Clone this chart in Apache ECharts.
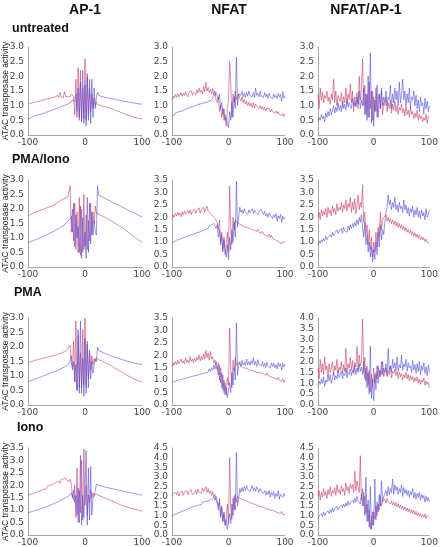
<!DOCTYPE html>
<html><head><meta charset="utf-8">
<script src="https://cdn.jsdelivr.net/npm/echarts@6/dist/echarts.min.js"></script>
<style>html,body{margin:0;padding:0;background:#fff}#c{width:441px;height:547px}</style>
</head><body><div id="c"></div>
<script>
// ---------- labels ----------
const columns = ['AP-1', 'NFAT', 'NFAT/AP-1'];
const treatments = ['untreated', 'PMA/Iono', 'PMA', 'Iono'];
const yTitle = 'ATAC transposase activity';
const xTickValues = [-100, 0, 100];
const yMaxes = [[3, 3, 3], [3, 3.5, 3.5], [3, 3.5, 4], [3.5, 4.5, 4.5]];
// positions relative to motif centre (bp), every 2 bp
const positions = [];
for (let p = -100; p <= 100; p += 2) positions.push(p);

// ---------- row 1: untreated ----------
const untreated_AP1_red = [1.05,1.02,1.08,1.04,1.10,1.07,1.12,1.09,1.14,1.10, 1.15,1.12,1.18,1.14,1.20,1.16,1.22,1.18,1.24,1.20, 1.26,1.22,1.28,1.24,1.30,1.27,1.35,1.28,1.45,1.30, 1.33,1.28,1.48,1.30,1.35,1.32,1.38,1.30,1.40,1.35, 1.30,0.70,1.90,0.60,2.30,0.50,2.20,0.45,1.60,0.55, 2.60,0.50,2.10,0.70,1.60,0.80,1.40,0.90,1.25,1.00, 1.12,1.05,1.10,1.02,1.06,0.98,1.02,0.97,0.99,0.95, 0.96,0.92,0.94,0.90,0.91,0.87,0.88,0.84,0.85,0.81, 0.82,0.78,0.79,0.75,0.76,0.72,0.73,0.69,0.70,0.67, 0.67,0.64,0.65,0.61,0.62,0.59,0.60,0.57,0.58,0.55,0.56];
const untreated_AP1_blue = [0.55,0.58,0.57,0.60,0.62,0.61,0.65,0.64,0.68,0.66, 0.70,0.72,0.71,0.75,0.74,0.78,0.77,0.81,0.80,0.84, 0.83,0.87,0.86,0.90,0.89,0.93,0.92,0.96,0.95,0.99, 0.98,1.02,1.01,1.06,1.04,1.10,1.08,1.14,1.12,1.20, 1.25,1.15,1.40,0.80,1.60,0.60,1.80,0.50,2.20,0.40, 1.70,0.30,2.00,0.50,1.90,0.40,1.90,0.60,1.60,0.90, 1.30,1.45,1.35,1.40,1.32,1.38,1.30,1.35,1.28,1.33, 1.27,1.30,1.25,1.28,1.23,1.26,1.22,1.25,1.20,1.23, 1.19,1.22,1.17,1.20,1.15,1.18,1.14,1.16,1.12,1.15, 1.11,1.14,1.10,1.12,1.08,1.11,1.07,1.10,1.06,1.09,1.05];
const untreated_NFAT_red = [1.20,1.32,1.25,1.38,1.28,1.40,1.30,1.36,1.45,1.32, 1.42,1.35,1.48,1.38,1.30,1.45,1.40,1.52,1.35,1.45, 1.50,1.38,1.55,1.42,1.60,1.45,1.52,1.40,1.65,1.48, 1.80,1.50,1.62,1.45,1.55,1.40,1.58,1.35,1.50,1.20, 1.10,1.30,0.80,1.00,0.60,0.90,0.50,0.70,0.30,0.90, 1.20,2.50,1.80,0.60,1.40,1.10,1.50,1.20,1.30,1.40, 1.25,1.15,1.30,1.10,1.20,1.05,1.15,1.00,1.12,0.98, 1.08,0.95,1.10,0.92,1.05,0.98,1.02,0.90,1.00,0.88, 0.98,0.85,0.95,0.82,0.92,0.86,0.90,0.78,0.88,0.80, 0.85,0.75,0.82,0.72,0.80,0.70,0.76,0.66,0.74,0.62,0.72];
const untreated_NFAT_blue = [0.65,0.70,0.68,0.75,0.72,0.78,0.74,0.80,0.76,0.82, 0.80,0.86,0.82,0.90,0.85,0.92,0.88,0.95,0.90,0.98, 0.94,1.00,0.96,1.04,0.98,1.06,1.00,1.08,1.02,1.10, 1.06,1.12,1.08,1.15,1.10,1.20,1.15,1.30,1.25,1.45, 1.50,1.20,1.40,0.90,1.10,0.70,0.90,0.50,0.60,0.40, 0.25,0.80,0.50,1.10,0.60,1.30,0.90,2.65,1.00,1.40, 1.45,1.35,1.50,1.30,1.42,1.28,1.45,1.32,1.50,1.35, 1.40,1.30,1.45,1.28,1.60,1.35,1.42,1.30,1.50,1.32, 1.38,1.28,1.45,1.30,1.40,1.25,1.42,1.30,1.36,1.22, 1.40,1.28,1.35,1.25,1.42,1.30,1.38,1.15,1.48,1.25,1.35];
const untreated_BOTH_red = [1.40,0.90,1.60,1.20,1.45,1.10,1.35,1.25,1.50,1.15, 1.30,1.05,1.40,1.20,1.90,1.10,1.50,1.00,1.35,1.25, 1.15,1.45,0.95,1.30,1.10,1.60,1.05,1.40,1.20,1.75, 1.10,1.50,0.80,1.30,1.00,1.45,0.90,2.00,1.20,1.55, 2.60,1.00,1.70,0.70,1.40,0.60,1.80,0.90,1.50,0.50, 1.30,0.80,1.60,0.60,1.20,1.40,0.90,1.50,0.70,1.10, 1.00,1.30,0.80,1.10,0.90,1.20,0.75,1.05,0.85,1.15, 0.80,1.00,0.70,0.95,0.85,1.05,0.75,0.90,0.65,1.00, 0.70,0.85,0.60,0.95,0.70,0.80,0.55,0.75,0.60,0.85, 0.50,0.70,0.55,0.65,0.45,0.60,0.50,0.70,0.40,0.65,0.60];
const untreated_BOTH_blue = [0.45,0.60,0.50,0.70,0.55,0.65,0.45,0.75,0.60,0.80, 0.65,0.90,0.70,0.85,1.00,0.75,0.95,0.80,1.10,0.85, 1.00,0.80,1.15,0.90,1.05,0.85,1.20,0.95,1.10,1.00, 0.90,1.25,1.00,1.10,0.95,1.30,1.05,1.50,0.90,1.20, 1.00,1.60,0.70,1.40,0.50,2.00,0.60,2.80,0.40,1.50, 0.30,1.20,0.80,1.70,0.60,1.40,0.90,1.60,1.00,1.30, 1.10,1.50,1.00,1.30,1.20,1.70,0.90,1.40,1.10,1.60, 1.20,1.50,1.00,1.80,1.10,1.40,1.90,1.20,1.50,1.00, 1.40,1.10,1.60,0.90,1.30,1.20,1.50,1.00,1.35,0.90, 1.20,0.80,1.30,1.00,1.10,0.70,1.25,0.90,1.15,0.80,1.00];

// ---------- row 2: PMA/Iono ----------
const pmaIono_AP1_red = [1.78,1.82,1.80,1.86,1.84,1.90,1.88,1.93,1.91,1.96, 1.94,1.99,1.97,2.02,2.00,2.05,2.03,2.08,2.06,2.11, 2.09,2.14,2.12,2.18,2.15,2.22,2.18,2.26,2.22,2.30, 2.26,2.34,2.30,2.38,2.34,2.42,2.40,2.80,1.20,2.00, 0.90,2.20,0.60,1.90,0.50,2.40,0.40,2.00,0.50,2.50, 0.70,1.80,0.60,1.60,0.90,2.20,1.10,1.90,1.50,2.10, 1.85,1.80,1.82,1.76,1.78,1.72,1.74,1.68,1.70,1.64, 1.66,1.60,1.62,1.56,1.57,1.51,1.52,1.46,1.47,1.41, 1.42,1.36,1.37,1.31,1.32,1.26,1.26,1.20,1.20,1.14, 1.14,1.08,1.08,1.02,1.02,0.96,0.96,0.91,0.91,0.86,0.85];
const pmaIono_AP1_blue = [0.85,0.88,0.87,0.91,0.90,0.94,0.93,0.97,0.96,1.00, 0.99,1.03,1.02,1.07,1.06,1.11,1.10,1.15,1.14,1.19, 1.18,1.23,1.22,1.27,1.26,1.31,1.30,1.36,1.35,1.41, 1.40,1.46,1.45,1.52,1.50,1.58,1.56,1.65,1.75,1.20, 2.20,0.70,1.80,1.00,1.40,0.50,2.10,0.30,1.70,0.60, 1.20,0.30,2.40,0.50,2.20,0.80,1.90,1.10,1.60,1.20, 1.10,2.80,2.48,2.50,2.44,2.46,2.40,2.42,2.36,2.38, 2.32,2.34,2.28,2.30,2.24,2.26,2.20,2.22,2.16,2.18, 2.12,2.14,2.08,2.10,2.04,2.06,2.00,2.02,1.96,1.98, 1.92,1.94,1.88,1.90,1.84,1.86,1.80,1.82,1.76,1.78,1.74];
const pmaIono_NFAT_red = [1.95,2.10,2.00,2.15,2.05,2.20,2.08,2.18,2.02,2.22, 2.10,2.25,2.12,2.05,2.28,2.15,2.30,2.10,2.25,2.18, 2.32,2.15,2.28,2.20,2.38,2.18,2.30,2.25,2.40,2.20, 2.35,2.45,2.25,2.30,2.15,2.20,2.05,2.10,1.95,2.00, 1.80,1.50,1.90,1.00,1.40,0.70,1.20,0.50,0.90,1.40, 0.60,3.25,1.60,0.90,2.00,1.50,1.90,1.80,1.85,1.75, 1.80,1.70,1.78,1.65,1.72,1.60,1.68,1.58,1.66,1.55, 1.62,1.50,1.58,1.48,1.55,1.42,1.52,1.40,1.48,1.35, 1.44,1.32,1.40,1.28,1.36,1.22,1.32,1.18,1.28,1.15, 1.22,1.10,1.18,1.05,1.12,1.00,1.08,0.92,1.02,0.95,1.00];
const pmaIono_NFAT_blue = [1.00,1.05,1.02,1.10,1.08,1.15,1.10,1.18,1.14,1.22, 1.18,1.25,1.20,1.28,1.24,1.32,1.28,1.35,1.30,1.38, 1.34,1.42,1.38,1.45,1.40,1.48,1.44,1.52,1.48,1.56, 1.52,1.60,1.55,1.65,1.58,1.70,1.62,1.75,1.68,1.55, 1.70,1.20,1.50,0.90,1.30,0.60,1.10,0.70,0.40,0.90, 0.30,1.20,0.70,1.50,1.00,1.80,1.20,3.45,1.60,2.00, 2.40,2.20,2.30,2.15,2.35,2.20,2.28,2.12,2.30,2.18, 2.25,2.35,2.15,2.30,2.20,2.28,2.10,2.25,2.18,2.32, 2.20,2.10,2.25,2.05,2.15,2.00,2.18,2.08,2.12,1.95, 2.10,2.00,2.15,1.85,2.05,1.95,2.12,1.80,2.05,1.92,2.00];
const pmaIono_BOTH_red = [2.00,2.20,1.90,2.30,2.05,2.25,2.10,2.35,2.00,2.40, 2.15,2.30,2.05,2.45,2.20,2.35,2.10,2.55,2.25,2.40, 2.30,2.60,2.20,2.50,2.35,2.70,2.25,2.55,2.40,2.80, 2.20,2.60,2.30,2.75,2.15,2.50,2.90,2.30,2.60,2.40, 3.30,1.80,2.20,1.30,1.70,0.90,1.50,0.70,1.20,0.40, 1.00,0.60,1.40,0.80,1.60,1.20,2.20,1.50,1.90,2.00, 1.95,2.10,1.85,2.00,1.80,1.95,1.75,1.90,1.70,1.85, 1.65,1.80,1.60,1.75,1.55,1.70,1.50,1.65,1.45,1.58, 1.40,1.52,1.35,1.48,1.30,1.42,1.25,1.38,1.20,1.32, 1.15,1.28,1.10,1.22,1.08,1.18,1.02,1.12,1.00,1.05,0.95];
const pmaIono_BOTH_blue = [0.90,1.05,0.95,1.10,1.00,1.15,1.05,1.25,1.10,1.20, 1.15,1.30,1.20,1.40,1.25,1.35,1.30,1.50,1.35,1.45, 1.40,1.55,1.35,1.60,1.45,1.50,1.40,1.65,1.50,1.70, 1.55,1.75,1.60,1.80,1.65,1.90,1.70,2.00,1.80,2.10, 1.60,1.20,1.80,0.90,1.30,0.60,1.00,0.40,0.80,0.20, 0.70,0.30,1.00,0.50,1.40,0.80,1.70,1.10,1.50,1.30, 1.80,2.20,2.40,2.90,2.50,2.70,2.30,2.60,2.40,2.80, 2.30,2.50,2.20,2.60,2.35,2.45,2.20,2.70,2.30,2.50, 2.15,2.40,2.05,2.35,2.20,2.45,2.00,2.30,2.10,2.40, 2.00,2.25,1.95,2.30,2.05,2.20,1.90,2.35,2.00,2.10,2.30];

// ---------- row 3: PMA ----------
const pma_AP1_red = [1.45,1.50,1.48,1.53,1.51,1.56,1.54,1.58,1.56,1.60, 1.58,1.62,1.60,1.64,1.62,1.66,1.64,1.68,1.66,1.70, 1.68,1.72,1.70,1.74,1.72,1.77,1.75,1.80,1.78,1.83, 1.80,1.86,1.84,1.90,1.88,1.95,1.90,2.05,1.45,1.30, 2.20,0.80,2.90,0.50,2.40,0.60,1.80,0.40,2.60,0.70, 3.00,0.60,2.20,0.90,1.90,1.20,1.70,1.40,1.60,1.50, 1.62,1.58,1.56,1.52,1.54,1.48,1.50,1.44,1.45,1.40, 1.41,1.36,1.37,1.32,1.33,1.28,1.28,1.23,1.24,1.19, 1.19,1.14,1.15,1.10,1.10,1.05,1.05,1.00,1.00,0.96, 0.96,0.92,0.92,0.88,0.88,0.85,0.85,0.82,0.82,0.80,0.80];
const pma_AP1_blue = [0.80,0.84,0.83,0.87,0.86,0.90,0.89,0.93,0.92,0.96, 0.95,0.99,0.98,1.02,1.01,1.05,1.04,1.08,1.07,1.11, 1.10,1.14,1.13,1.17,1.16,1.20,1.19,1.24,1.23,1.28, 1.27,1.32,1.31,1.37,1.36,1.42,1.45,1.55,1.70,1.20, 1.50,0.80,1.40,0.50,2.60,0.40,2.90,0.60,1.60,0.30, 2.30,0.40,2.10,0.60,1.80,0.90,1.50,1.10,1.40,1.60, 1.50,2.00,1.88,1.90,1.84,1.86,1.80,1.82,1.77,1.79, 1.74,1.76,1.71,1.73,1.68,1.70,1.65,1.67,1.62,1.64, 1.60,1.62,1.57,1.60,1.55,1.58,1.52,1.56,1.50,1.54, 1.48,1.52,1.46,1.50,1.44,1.48,1.42,1.47,1.40,1.46,1.42];
const pma_NFAT_red = [1.55,1.70,1.60,1.75,1.62,1.80,1.65,1.72,1.85,1.68, 1.78,1.65,1.90,1.72,1.82,1.68,1.95,1.75,1.85,1.70, 1.88,1.75,1.92,1.80,2.00,1.78,1.95,1.82,2.05,1.85, 2.20,1.90,2.10,1.80,2.15,1.85,1.95,1.70,1.80,1.60, 1.40,1.70,1.00,1.50,0.70,1.20,0.50,0.90,0.40,1.10, 0.80,3.10,1.50,0.70,1.80,1.40,1.90,1.60,1.70,1.75, 1.65,1.55,1.62,1.50,1.58,1.48,1.55,1.45,1.52,1.40, 1.48,1.38,1.45,1.35,1.42,1.32,1.40,1.30,1.38,1.28, 1.35,1.25,1.32,1.20,1.30,1.18,1.26,1.15,1.22,1.10, 1.18,1.08,1.15,1.02,1.12,1.00,1.08,0.95,1.05,0.90,1.00];
const pma_NFAT_blue = [0.90,0.98,0.95,1.02,0.98,1.05,1.00,1.08,1.03,1.10, 1.05,1.12,1.08,1.15,1.10,1.18,1.12,1.20,1.15,1.22, 1.18,1.25,1.20,1.28,1.22,1.30,1.25,1.32,1.28,1.35, 1.30,1.38,1.32,1.45,1.35,1.50,1.40,1.60,1.45,1.75, 1.50,1.20,1.60,0.90,1.30,0.60,1.00,0.40,0.70,0.30, 0.60,0.90,0.50,1.30,0.80,1.50,1.00,3.30,1.20,1.60, 1.75,1.55,1.80,1.60,1.72,1.58,1.85,1.62,1.75,1.60, 1.78,1.65,1.90,1.60,1.75,1.55,1.82,1.62,1.70,1.58, 1.75,1.55,1.68,1.50,1.72,1.58,1.65,1.48,1.70,1.55, 1.68,1.50,1.62,1.45,1.70,1.55,1.65,1.40,1.68,1.52,1.65];
const pma_BOTH_red = [1.70,1.20,2.10,1.50,1.90,1.40,2.20,1.60,1.80,1.30, 1.90,1.50,1.70,2.00,1.40,1.80,1.60,2.10,1.50,1.75, 1.60,2.00,1.45,1.85,1.55,2.60,1.50,1.90,1.70,2.20, 1.60,2.05,1.50,1.95,1.75,2.70,1.60,2.30,1.80,2.00, 3.95,1.50,2.20,1.10,1.80,0.90,1.60,0.60,1.40,0.80, 1.70,1.00,1.50,1.20,1.80,1.30,1.60,1.40,2.00,1.30, 1.50,1.70,1.30,1.60,1.40,1.80,1.25,1.55,1.45,1.65, 1.35,1.55,1.20,1.50,1.30,1.45,1.15,1.40,1.25,1.50, 1.20,1.40,1.10,1.35,1.15,1.30,1.05,1.25,1.10,1.30, 1.00,1.20,0.95,1.15,1.05,1.25,0.90,1.10,0.95,1.05,0.80];
const pma_BOTH_blue = [0.90,1.10,0.95,1.20,1.00,1.30,0.85,1.15,1.05,1.35, 1.10,1.40,1.00,1.25,1.50,1.15,1.35,1.20,1.60,1.25, 1.30,1.55,1.20,1.45,1.35,1.70,1.25,1.50,1.40,1.65, 1.35,1.60,1.45,1.80,1.40,1.70,1.50,1.90,1.55,1.75, 1.40,2.00,1.20,1.70,0.80,1.50,0.50,2.70,0.30,1.20, 0.20,1.40,0.70,1.80,1.00,1.60,1.30,2.00,1.40,1.70, 1.50,1.90,1.40,2.60,1.60,1.80,1.50,2.10,1.70,1.95, 1.60,2.20,1.55,1.85,1.70,2.30,1.60,1.90,1.75,2.10, 1.55,1.95,1.70,1.80,1.50,2.05,1.60,1.85,1.45,1.90, 1.55,2.00,1.40,1.80,1.60,1.95,1.45,1.75,1.35,1.85,1.50];

// ---------- row 4: Iono ----------
const iono_AP1_red = [1.60,1.65,1.63,1.68,1.66,1.72,1.70,1.76,1.73,1.80, 1.77,1.84,1.80,1.88,1.84,1.92,1.87,1.96,1.90,1.99, 1.94,2.03,1.97,2.07,2.00,2.12,2.05,2.18,2.08,2.22, 2.15,2.26,2.18,2.30,2.20,2.24,2.15,2.25,2.00,1.60, 1.40,2.00,0.70,2.70,0.50,1.80,0.90,3.00,0.60,3.45, 1.20,2.00,0.80,1.60,1.30,1.80,1.50,1.70,1.55,1.65, 1.60,1.62,1.55,1.58,1.50,1.54,1.46,1.50,1.42,1.46, 1.38,1.42,1.34,1.38,1.30,1.34,1.26,1.30,1.22,1.26, 1.18,1.22,1.15,1.18,1.12,1.15,1.09,1.12,1.06,1.09, 1.04,1.06,1.02,1.04,1.00,1.02,0.98,1.00,0.96,0.97,0.94];
const iono_AP1_blue = [0.90,0.93,0.92,0.96,0.95,0.99,0.98,1.02,1.01,1.05, 1.04,1.08,1.07,1.11,1.10,1.14,1.13,1.18,1.17,1.22, 1.21,1.26,1.25,1.30,1.29,1.34,1.33,1.38,1.37,1.43, 1.42,1.48,1.47,1.53,1.52,1.58,1.57,1.65,1.70,1.50, 1.80,1.30,1.60,0.80,1.90,0.50,3.20,0.40,1.60,0.70, 1.80,3.40,0.40,2.70,0.60,2.75,0.80,1.50,1.60,1.80, 2.05,2.10,2.00,2.08,1.98,2.05,1.95,2.02,1.92,2.00, 1.90,1.98,1.88,1.95,1.86,1.92,1.84,1.90,1.82,1.88, 1.80,1.86,1.78,1.84,1.76,1.82,1.74,1.80,1.72,1.78, 1.70,1.76,1.68,1.74,1.66,1.72,1.64,1.70,1.62,1.68,1.60];
const iono_NFAT_red = [2.00,2.15,2.05,2.20,2.08,2.25,2.02,2.18,2.10,2.28, 2.05,2.22,2.12,2.30,2.08,2.25,2.15,2.35,2.10,2.20, 2.18,2.32,2.12,2.38,2.20,2.30,2.15,2.42,2.25,2.35, 2.50,2.20,2.40,2.15,2.30,2.05,2.25,1.95,2.10,1.80, 1.90,1.50,1.70,1.00,1.40,0.70,1.10,0.50,0.80,1.60, 0.60,4.00,1.40,0.80,1.90,1.30,2.10,1.70,2.00,1.95, 1.90,1.95,1.85,1.90,1.80,1.85,1.75,1.82,1.70,1.78, 1.65,1.75,1.60,1.70,1.58,1.65,1.52,1.60,1.48,1.55, 1.45,1.52,1.40,1.48,1.35,1.45,1.32,1.40,1.28,1.35, 1.25,1.32,1.20,1.30,1.15,1.25,1.10,1.22,1.05,1.15,1.05];
const iono_NFAT_blue = [1.00,1.08,1.05,1.12,1.10,1.18,1.15,1.22,1.20,1.28, 1.25,1.35,1.30,1.40,1.35,1.45,1.40,1.50,1.45,1.55, 1.50,1.58,1.52,1.62,1.55,1.65,1.58,1.70,1.62,1.72, 1.65,1.75,1.70,1.80,1.72,1.85,1.78,1.95,1.80,2.00, 1.70,1.30,1.90,0.90,1.50,0.70,1.20,0.50,0.80,0.30, 0.70,1.10,0.60,1.60,1.00,2.00,1.30,4.25,1.50,1.90, 2.40,2.20,2.45,2.25,2.50,2.30,2.55,2.35,2.45,2.25, 2.40,2.55,2.30,2.45,2.25,2.50,2.35,2.20,2.40,2.25, 2.35,2.15,2.30,2.05,2.25,2.10,2.30,1.95,2.20,2.05, 2.25,1.90,2.15,2.00,2.30,1.85,2.10,2.05,1.95,2.15,2.00];
const iono_BOTH_red = [2.00,2.30,1.80,2.20,1.95,2.40,2.05,2.25,1.90,2.35, 2.10,2.50,2.00,2.30,2.15,2.45,2.05,2.60,2.20,2.35, 2.10,2.55,2.25,2.40,2.05,2.70,2.30,2.50,2.15,2.65, 2.40,2.60,2.20,3.30,2.30,2.80,2.50,2.20,4.10,1.80, 2.40,1.50,2.00,1.10,1.60,0.70,1.30,0.30,1.00,0.50, 1.20,0.80,1.50,1.00,1.60,1.30,2.00,1.50,1.80,1.70, 1.85,1.65,1.90,1.70,1.80,1.60,1.75,1.55,1.72,1.50, 1.68,1.45,1.62,1.40,1.55,1.35,1.50,1.30,1.45,1.25, 1.40,1.20,1.35,1.15,1.30,1.10,1.28,1.05,1.22,1.00, 1.15,0.98,1.10,0.92,1.05,0.90,1.08,0.85,1.00,0.95,0.90];
const iono_BOTH_blue = [0.80,1.00,0.90,1.10,0.95,1.20,1.00,1.15,1.05,1.25, 1.10,1.30,1.15,1.40,1.20,1.35,1.25,1.50,1.30,1.45, 1.35,1.55,1.40,1.60,1.45,1.65,1.50,1.75,1.55,1.70, 1.60,1.80,1.65,1.90,1.70,2.00,1.75,1.85,1.60,2.10, 1.50,2.20,1.00,3.00,0.70,1.80,0.40,2.50,0.30,1.20, 0.50,2.90,0.80,1.70,1.20,2.10,1.50,2.80,1.70,2.00, 1.90,2.30,2.00,2.50,2.10,2.40,2.20,2.90,2.10,2.60, 2.30,2.50,2.10,2.40,2.20,2.60,2.00,2.45,2.15,2.35, 2.05,2.30,1.95,2.25,2.10,2.40,1.90,2.20,1.85,2.15, 1.95,2.20,1.80,2.10,1.90,2.05,1.70,2.00,1.75,1.95,1.70];

const panelRed = [
  [untreated_AP1_red, untreated_NFAT_red, untreated_BOTH_red],
  [pmaIono_AP1_red, pmaIono_NFAT_red, pmaIono_BOTH_red],
  [pma_AP1_red, pma_NFAT_red, pma_BOTH_red],
  [iono_AP1_red, iono_NFAT_red, iono_BOTH_red]
];
const panelBlue = [
  [untreated_AP1_blue, untreated_NFAT_blue, untreated_BOTH_blue],
  [pmaIono_AP1_blue, pmaIono_NFAT_blue, pmaIono_BOTH_blue],
  [pma_AP1_blue, pma_NFAT_blue, pma_BOTH_blue],
  [iono_AP1_blue, iono_NFAT_blue, iono_BOTH_blue]
];

// ---------- layout ----------
const colLeft = [28, 172, 318];
const colWidth = [114, 113, 115];
const colCenter = [85, 229, 366];
const rowTop = [47, 180, 318, 448];
const rowHeight = [88, 87, 87, 88];
const rowLabelX = [12, 12, 14, 17];
const rowLabelY = [29, 160, 293, 428];
const RED = '#c8325e';
const BLUE = '#4646dc';
const AXIS = '#a8a8a8';
const TICK_FONT = 'DejaVu Sans';

const grid = [], xAxis = [], yAxis = [], series = [], graphic = [];
let k = 0;
for (let r = 0; r < 4; r++) {
  for (let c = 0; c < 3; c++) {
    grid.push({left: colLeft[c], top: rowTop[r], width: colWidth[c], height: rowHeight[r], containLabel: false});
    xAxis.push({type: 'value', gridIndex: k, min: xTickValues[0], max: xTickValues[2], interval: 100,
      axisLine: {show: true, onZero: false, lineStyle: {color: AXIS, width: 1}}, axisTick: {show: false}, splitLine: {show: false},
      axisLabel: {fontSize: 9, color: '#444', fontFamily: TICK_FONT, margin: 3, showMinLabel: true, showMaxLabel: true}});
    yAxis.push({type: 'value', gridIndex: k, min: 0, max: yMaxes[r][c], interval: 0.5,
      axisLine: {show: true, onZero: false, lineStyle: {color: AXIS, width: 1}}, axisTick: {show: false}, splitLine: {show: false},
      axisLabel: {fontSize: 9, color: '#444', fontFamily: TICK_FONT, margin: 4, formatter: v => v.toFixed(1)}});
    const red = panelRed[r][c], blue = panelBlue[r][c];
    series.push({type: 'line', xAxisIndex: k, yAxisIndex: k, showSymbol: false, silent: true,
      data: positions.map((p, i) => [p, red[i]]), lineStyle: {color: RED, width: 0.7, opacity: 0.8}});
    series.push({type: 'line', xAxisIndex: k, yAxisIndex: k, showSymbol: false, silent: true,
      data: positions.map((p, i) => [p, blue[i]]), lineStyle: {color: BLUE, width: 0.7, opacity: 0.8}});
    k++;
  }
}
columns.forEach((t, c) => graphic.push({type: 'text', x: colCenter[c], y: 10,
  style: {text: t, fontSize: 14, fontWeight: 'bold', fontFamily: 'Liberation Sans', fill: '#111', align: 'center', verticalAlign: 'middle'}}));
treatments.forEach((t, r) => {
  graphic.push({type: 'text', x: rowLabelX[r], y: rowLabelY[r],
    style: {text: t, fontSize: 12.5, fontWeight: 'bold', fontFamily: 'Liberation Sans', fill: '#111', align: 'left', verticalAlign: 'middle'}});
  graphic.push({type: 'text', x: 6, y: rowTop[r] + rowHeight[r] / 2, rotation: Math.PI / 2,
    style: {text: yTitle, fontSize: 8.5, fontFamily: 'Liberation Sans', fill: '#222', align: 'center', verticalAlign: 'middle'}});
});

const chart = echarts.init(document.getElementById('c'), null, {renderer: 'canvas'});
chart.setOption({animation: false, backgroundColor: '#fff', grid, xAxis, yAxis, series, graphic});
</script></body></html>
